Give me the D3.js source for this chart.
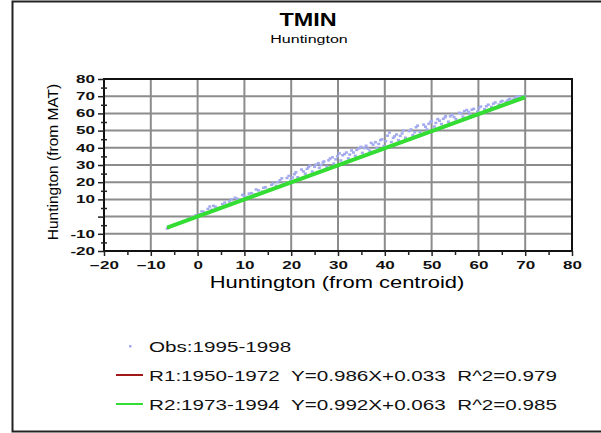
<!DOCTYPE html>
<html>
<head>
<meta charset="utf-8">
<script src="https://cdn.jsdelivr.net/npm/d3@7"></script>
<style>
  body { margin: 0; background: #fff; }
  svg { display: block; font-family: Arial, "Liberation Sans", sans-serif; }
</style>
</head>
<body>
<svg id="chart" width="601" height="433"></svg>
<script>

var obsX = [-6.5, -5.8, -5.0, -4.2, -3.1, -2.0, -1.2, -0.4, 0.5, 1.3, 2.2, 3.0, 3.8, 4.5, 5.3, 6.1, 6.8, 7.6, 8.4, 9.1,
    9.9, 10.7, 11.5, 12.2, 13.0, 13.8, 14.5, 15.3, 16.1, 16.8, 17.6, 18.4, 19.1, 19.9, 20.7, 21.4, 22.2, 23.0, 23.7, 24.5,
    25.3, 26.0, 26.8, 27.6, 28.3, 29.1, 29.9, 30.6, 31.4, 32.2, 32.9, 33.7, 34.5, 35.2, 36.0, 36.8, 37.5, 38.3, 39.1, 39.8,
    40.6, 41.0, 41.4, 42.1, 42.9, 43.7, 44.4, 45.2, 46.0, 46.7, 47.5, 48.3, 49.0, 49.8, 50.6, 51.3, 52.1, 52.9, 53.6, 54.4,
    55.2, 55.9, 56.7, 57.5, 58.2, 59.0, 59.8, 60.5, 61.3, 62.1, 62.8, 63.6, 64.4, 65.1, 65.9, 66.7, 67.4, 68.2, 69.0, 69.8,
    24.0, 27.0, 30.3, 33.3, 35.6, 44.0, 47.0, 50.0, 53.0, 57.0, 21.0, 18.0, 12.5, 8.0, 2.6, 38.0, 42.5,
    0.9, 3.4, 5.8, 7.2, 9.6, 11.0, 14.1, 15.8, 17.1, 19.5, 20.3, 22.6, 23.4, 25.0, 25.8, 26.4, 28.0, 28.8, 29.5, 31.0,
    31.8, 32.5, 34.0, 34.9, 36.4, 37.1, 38.7, 39.4, 40.2, 41.8, 43.3, 45.6, 46.4, 48.7, 49.4, 50.9, 51.7, 52.5, 54.0, 54.8,
    56.3, 57.9, 58.6, 60.1, 61.7, 63.2, 64.8, 66.3, 67.8, 68.6];
var obsY = [-6.8, -5.5, -4.6, -3.9, -2.5, -1.2, -0.3, 0.9, 1.6, 2.9, 4.6, 4.1, 5.9, 5.2, 7.4, 6.8, 8.9, 8.1, 10.6, 10.0,
    12.3, 11.6, 13.8, 13.0, 15.4, 14.6, 17.2, 16.1, 19.4, 18.0, 21.3, 19.5, 22.6, 21.2, 24.8, 23.0, 27.5, 25.1, 28.9, 26.3,
    30.4, 28.5, 31.6, 29.2, 33.9, 31.0, 35.2, 32.8, 36.5, 34.0, 38.6, 35.5, 39.8, 37.2, 41.3, 38.4, 42.0, 40.1, 44.6, 41.2,
    47.2, 49.0, 43.5, 46.8, 44.6, 48.5, 46.0, 49.9, 47.6, 52.1, 49.3, 53.6, 50.8, 55.2, 52.5, 56.8, 54.0, 57.9, 55.3, 59.4,
    56.8, 60.5, 58.3, 62.1, 59.6, 62.8, 61.2, 64.1, 62.6, 65.2, 63.9, 66.5, 65.3, 67.4, 66.8, 68.6, 68.1, 69.5, 69.4, 70.2,
    29.8, 32.2, 36.9, 37.4, 40.0, 50.2, 53.0, 55.8, 58.6, 61.5, 25.9, 22.4, 15.9, 11.1, 6.0, 43.4, 47.9,
    3.2, 6.4, 8.3, 10.1, 12.8, 13.5, 16.9, 18.6, 20.2, 23.8, 22.9, 26.4, 27.9, 29.1, 31.2, 30.1, 32.9, 34.6, 33.4, 35.8,
    37.4, 36.2, 38.9, 40.7, 39.6, 43.0, 42.4, 45.1, 44.0, 45.9, 47.1, 50.8, 49.2, 52.4, 54.1, 54.6, 55.9, 57.0, 58.5, 58.0,
    60.1, 61.0, 62.3, 63.2, 64.3, 65.8, 66.9, 67.9, 69.2, 70.1];

// regression line end points
var lineX = [-6.5, 70];
var r1Y = [-6.4, 69.1];
var r2Y = [-6.4, 69.5];

var xTicks = [-20, -10, 0, 10, 20, 30, 40, 50, 60, 70, 80];
var yTicks = [-20, -10, 0, 10, 20, 30, 40, 50, 60, 70, 80];
var yTickLabels = ["-20", "-10", "", "10", "20", "30", "40", "50", "60", "70", "80"];
var legendLabels = ["Obs:1995-1998",
    "R1:1950-1972  Y=0.986X+0.033  R^2=0.979",
    "R2:1973-1994  Y=0.992X+0.063  R^2=0.985"];

var obsColor = "#a3aaee", r1Color = "#a01818", r2Color = "#33dd33";

var svg = d3.select("#chart");

// widen text the way the picture is stretched
var stretch = function (sel, k) {
    sel.each(function () {
        var w = this.getComputedTextLength();
        d3.select(this).attr("textLength", w * k).attr("lengthAdjust", "spacingAndGlyphs");
    });
};

// outer frame (left, top, bottom only)
svg.append("path")
    .attr("d", "M601,1.5 H12.5 V431.5 H601")
    .attr("fill", "none")
    .attr("stroke", "#222")
    .attr("stroke-width", 2);

var pLeft = 104, pRight = 572, pTop = 79, pBottom = 251;
var x = d3.scaleLinear().domain([-20, 80]).range([pLeft, pRight]);
var y = d3.scaleLinear().domain([-20, 80]).range([pBottom, pTop]);

// title
var t1 = svg.append("text").attr("x", 308).attr("y", 26)
    .attr("text-anchor", "middle").attr("font-size", 18).attr("font-weight", "bold")
    .text("TMIN");
stretch(t1, 1.3);
var t2 = svg.append("text").attr("x", 309).attr("y", 43)
    .attr("text-anchor", "middle").attr("font-size", 10)
    .text("Huntington");
stretch(t2, 1.6);

// grid
var g = svg.append("g");
g.selectAll("line.gx").data(xTicks.slice(1, -1)).join("line")
    .attr("class", "gx")
    .attr("x1", function (d) { return x(d); }).attr("x2", function (d) { return x(d); })
    .attr("y1", pTop).attr("y2", pBottom)
    .attr("stroke", "#8c8c8c").attr("stroke-width", 2);
g.selectAll("line.gy").data(yTicks.slice(1, -1)).join("line")
    .attr("class", "gy")
    .attr("y1", function (d) { return y(d); }).attr("y2", function (d) { return y(d); })
    .attr("x1", pLeft).attr("x2", pRight)
    .attr("stroke", "#8c8c8c").attr("stroke-width", 2);

// frame of plot
svg.append("rect")
    .attr("x", pLeft).attr("y", pTop).attr("width", pRight - pLeft).attr("height", pBottom - pTop)
    .attr("fill", "none").attr("stroke", "#111").attr("stroke-width", 2);

// observations
svg.append("g").selectAll("rect").data(obsX).join("rect")
    .attr("x", function (d) { return x(d) - 1.5; })
    .attr("y", function (d, i) { return y(obsY[i]) - 1; })
    .attr("width", 3).attr("height", 2.5)
    .attr("fill", obsColor);

// regression lines
var line = d3.line()
    .x(function (d) { return x(d[0]); })
    .y(function (d) { return y(d[1]); });
svg.append("path").datum(d3.zip(lineX, r1Y))
    .attr("d", line).attr("fill", "none").attr("stroke", r1Color).attr("stroke-width", 2);
svg.append("path").datum(d3.zip(lineX, r2Y))
    .attr("d", line).attr("fill", "none").attr("stroke", r2Color).attr("stroke-width", 4);

// axes
var yAxis = svg.append("g").attr("transform", "translate(" + pLeft + ",0)")
    .call(d3.axisLeft(y).tickValues(yTicks).tickSize(6)
        .tickFormat(function (d, i) { return yTickLabels[i]; }));
var yMinor = svg.append("g").attr("transform", "translate(" + (pLeft + 3) + ",0)")
    .call(d3.axisLeft(y).tickValues(d3.range(-15, 80, 10)).tickSize(6).tickFormat(""));
var xAxis = svg.append("g").attr("transform", "translate(0," + pBottom + ")")
    .call(d3.axisBottom(x).tickValues(xTicks).tickSize(5));
var xMinor = svg.append("g").attr("transform", "translate(0," + pBottom + ")")
    .call(d3.axisBottom(x).tickValues(d3.range(-15, 80, 10)).tickSize(4).tickFormat(""));

[yAxis, yMinor, xAxis, xMinor].forEach(function (a) {
    a.select(".domain").remove();
    a.selectAll("line").attr("stroke", "#222").attr("stroke-width", 1.5);
});
yAxis.selectAll("text").attr("font-size", 10).attr("font-weight", "bold")
    .attr("font-family", "Arial, 'Liberation Sans', sans-serif").attr("fill", "#111").attr("x", -9);
xAxis.selectAll("text").attr("font-size", 10).attr("font-weight", "bold")
    .attr("font-family", "Arial, 'Liberation Sans', sans-serif").attr("fill", "#111").attr("y", 11);
stretch(yAxis.selectAll("text"), 1.7);
stretch(xAxis.selectAll("text"), 1.7);

// axis titles
var xt = svg.append("text").attr("x", 337).attr("y", 288)
    .attr("text-anchor", "middle").attr("font-size", 16)
    .text("Huntington (from centroid)");
stretch(xt, 1.37);
svg.append("text")
    .attr("transform", "translate(58,162) rotate(-90)")
    .attr("text-anchor", "middle").attr("font-size", 15.5)
    .text("Huntington (from MAT)");

// legend
var legendY = [346, 375, 404];
var lg = svg.append("g");
lg.append("rect").attr("x", 129).attr("y", legendY[0] - 1).attr("width", 2.5).attr("height", 2.5).attr("fill", obsColor);
lg.append("line").attr("x1", 116).attr("x2", 143).attr("y1", legendY[1]).attr("y2", legendY[1])
    .attr("stroke", r1Color).attr("stroke-width", 2);
lg.append("line").attr("x1", 116).attr("x2", 143).attr("y1", legendY[2]).attr("y2", legendY[2])
    .attr("stroke", r2Color).attr("stroke-width", 2);
var lt = lg.selectAll("text").data(legendLabels).join("text")
    .attr("x", 149)
    .attr("y", function (d, i) { return legendY[i] + 5.5; })
    .attr("font-size", 15)
    .attr("fill", "#111")
    .attr("xml:space", "preserve")
    .style("white-space", "pre")
    .text(function (d) { return d; });
// R1 line in the picture runs to x ~ 557
var legendK = 408 / lt.nodes()[1].getComputedTextLength();
stretch(lt, legendK);

</script>
</body>
</html>
